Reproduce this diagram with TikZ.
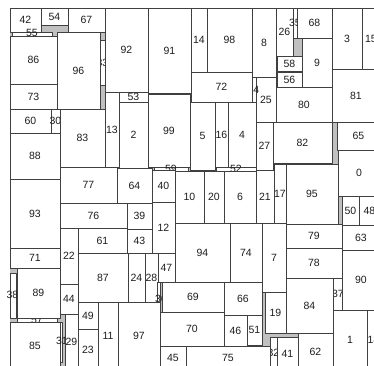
\documentclass[tikz,border=0pt]{standalone}
\usepackage{fontspec}
\setmainfont{Liberation Sans}
\definecolor{gapgray}{RGB}{192,192,192}
\definecolor{edgegray}{RGB}{64,64,64}
\definecolor{ink}{RGB}{30,30,30}
\tikzset{
  cell/.style={draw=edgegray, fill=white, line width=0.8bp},
  lbl/.style={inner sep=0pt, outer sep=0pt, text=ink, font=\fontsize{10.5bp}{12bp}\selectfont},
}
\begin{document}
\begin{tikzpicture}[x=1bp, y=1bp, line cap=round, line join=round]
  \useasboundingbox (0,0) rectangle (374,-366);
  \clip (0,0) rectangle (374,-366);
  \path[fill=gapgray] (10,-8) rectangle (380,-370);
  % top left block
  \path[cell] (10,-8) rectangle node[lbl] (n42) {42} (41,-32);
  \path[cell] (41,-8) rectangle node[lbl] (n54) {54} (68,-25);
  \path[cell] (68,-8) rectangle node[lbl] (n67) {67} (105,-32);
  \path[cell] (12,-32) rectangle (52,-36);
  \node[lbl] (n55) at (32,-33) {55};
  \path[cell] (100,-40) rectangle node[lbl] (n33) {33} (105,-85);
  \path[cell] (10,-36) rectangle node[lbl] (n86) {86} (57,-84);
  \path[cell] (10,-84) rectangle node[lbl] (n73) {73} (57,-109);
  \path[cell] (57,-32) rectangle node[lbl] (n96) {96} (100,-109);
  \path[cell] (105,-8) rectangle node[lbl] (n92) {92} (148,-92);
  \path[cell] (119,-92) rectangle node[lbl] (n53) {53} (148,-102);
  \path[cell] (105,-92) rectangle node[lbl] (n13) {13} (119,-167);
  \path[cell] (119,-102) rectangle node[lbl] (n2) {2} (148,-168);
  \path[cell] (148,-8) rectangle node[lbl] (n91) {91} (191,-93);
  \path[cell] (148,-94) rectangle node[lbl] (n99) {99} (190,-167);
  \path[cell] (154,-167) rectangle (188,-171);
  \node[lbl] (n59) at (171,-168.5) {59};
  % top middle
  \path[cell] (252,-8) rectangle node[lbl] (n8) {8} (276,-77);
  \path[cell] (256,-77) rectangle node[lbl] (n25) {25} (276,-122);
  \path[cell] (252,-77) rectangle (256,-102);
  \node[lbl] (n34) at (253.5,-89.5) {34};
  \path[cell] (191,-8) rectangle node[lbl] (n14) {14} (207,-72);
  \path[cell] (207,-8) rectangle node[lbl] (n98) {98} (252,-72);
  \path[cell] (191,-72) rectangle node[lbl] (n72) {72} (252,-102);
  \path[cell] (190,-102) rectangle node[lbl] (n5) {5} (215,-170);
  \path[cell] (215,-102) rectangle node[lbl] (n16) {16} (228,-167);
  \path[cell] (228,-102) rectangle node[lbl] (n4) {4} (256,-167);
  \path[cell] (216,-167) rectangle (256,-171);
  \node[lbl] (n52) at (236,-169) {52};
  % top right
  \path[cell] (276,-8) rectangle node[lbl] (n26) {26} (293,-56);
  \path[cell] (293,-8) rectangle (297,-38);
  \node[lbl] (n35) at (295,-23) {35};
  \path[cell] (297,-8) rectangle node[lbl] (n68) {68} (332,-38);
  \path[cell] (277,-56) rectangle node[lbl] (n58) {58} (302,-71);
  \path[cell] (277,-72) rectangle node[lbl] (n56) {56} (302,-87);
  \path[cell] (302,-38) rectangle node[lbl] (n9) {9} (332,-87);
  \path[cell] (276,-87) rectangle node[lbl] (n80) {80} (332,-122);
  \path[cell] (332,-8) rectangle node[lbl] (n3) {3} (362,-69);
  \path[cell] (362,-8) rectangle node[lbl] (n15) {15} (380,-69);
  \path[cell] (332,-69) rectangle node[lbl] (n81) {81} (380,-122);
  % middle band
  \path[cell] (10,-109) rectangle node[lbl] (n60) {60} (51,-133);
  \path[cell] (51,-109) rectangle node[lbl] (n30) {30} (60,-133);
  \path[cell] (60,-109) rectangle node[lbl] (n83) {83} (105,-167);
  \path[cell] (10,-133) rectangle node[lbl] (n88) {88} (60,-179);
  \path[cell] (10,-179) rectangle node[lbl] (n93) {93} (60,-248);
  \path[cell] (60,-167) rectangle node[lbl] (n77) {77} (117,-203);
  \path[cell] (117,-168) rectangle node[lbl] (n64) {64} (152,-203);
  \path[cell] (152,-170) rectangle node[lbl] (n40) {40} (175,-202);
  \path[cell] (175,-171) rectangle node[lbl] (n10) {10} (204,-223);
  \path[cell] (204,-171) rectangle node[lbl] (n20) {20} (224,-223);
  \path[cell] (224,-171) rectangle node[lbl] (n6) {6} (256,-223);
  \path[cell] (256,-122) rectangle node[lbl] (n27) {27} (273,-170);
  \path[cell] (273,-122) rectangle node[lbl] (n82) {82} (332,-163);
  \path[cell] (337,-122) rectangle node[lbl] (n65) {65} (380,-150);
  \path[cell] (338,-150) rectangle node[lbl] (n0) {0} (380,-196);
  \path[cell] (256,-170) rectangle node[lbl] (n21) {21} (274,-223);
  \path[cell] (274,-164) rectangle node[lbl] (n17) {17} (286,-223);
  \path[cell] (286,-164) rectangle node[lbl] (n95) {95} (338,-224);
  \path[cell] (342,-196) rectangle node[lbl] (n50) {50} (359,-225);
  \path[cell] (359,-196) rectangle node[lbl] (n48) {48} (380,-225);
  \path[cell] (286,-224) rectangle node[lbl] (n79) {79} (342,-248);
  \path[cell] (342,-225) rectangle node[lbl] (n63) {63} (380,-250);
  \path[cell] (60,-203) rectangle node[lbl] (n76) {76} (127,-228);
  \path[cell] (127,-203) rectangle node[lbl] (n39) {39} (152,-229);
  \path[cell] (152,-202) rectangle node[lbl] (n12) {12} (175,-253);
  \path[cell] (78,-228) rectangle node[lbl] (n61) {61} (127,-253);
  \path[cell] (127,-229) rectangle node[lbl] (n43) {43} (152,-253);
  \path[cell] (60,-228) rectangle node[lbl] (n22) {22} (78,-284);
  \path[cell] (10,-248) rectangle node[lbl] (n71) {71} (60,-268);
  % bottom left
  \path[cell] (10,-273) rectangle (16,-318);
  \node[lbl] (n38) at (12.5,-295) {38};
  \path[cell] (17,-318) rectangle (57,-322);
  \node[lbl] (n57) at (37,-320) {57};
  \path[cell] (17,-268) rectangle node[lbl] (n89) {89} (60,-318);
  \path[cell] (10,-322) rectangle node[lbl] (n85) {85} (60,-370);
  \path[cell] (60,-322) rectangle (62,-362);
  \node[lbl] (n31) at (62,-341) {31};
  \path[cell] (65,-314) rectangle node[lbl] (n29) {29} (78,-370);
  \path[cell] (60,-284) rectangle node[lbl] (n44) {44} (78,-314);
  \path[cell] (78,-302) rectangle node[lbl] (n49) {49} (98,-329);
  \path[cell] (78,-329) rectangle node[lbl] (n23) {23} (98,-370);
  \path[cell] (98,-302) rectangle node[lbl] (n11) {11} (118,-370);
  \path[cell] (78,-253) rectangle node[lbl] (n87) {87} (128,-302);
  \path[cell] (128,-253) rectangle node[lbl] (n24) {24} (145,-302);
  \path[cell] (145,-253) rectangle node[lbl] (n28) {28} (158,-302);
  \path[cell] (158,-253) rectangle node[lbl] (n47) {47} (175,-282);
  % bottom middle and right
  \path[cell] (175,-223) rectangle node[lbl] (n94) {94} (230,-282);
  \path[cell] (230,-223) rectangle node[lbl] (n74) {74} (262,-282);
  \path[cell] (262,-223) rectangle node[lbl] (n7) {7} (286,-292);
  \path[cell] (286,-248) rectangle node[lbl] (n78) {78} (342,-278);
  \path[cell] (333,-278) rectangle (342,-310);
  \node[lbl] (n37) at (338,-294) {37};
  \path[cell] (342,-250) rectangle node[lbl] (n90) {90} (380,-310);
  \path[cell] (286,-278) rectangle node[lbl] (n84) {84} (333,-333);
  \path[cell] (265,-292) rectangle node[lbl] (n19) {19} (286,-333);
  \path[cell] (157,-282) rectangle (160,-302);
  \node[lbl] (n36) at (161,-299) {36};
  \path[cell] (162,-282) rectangle node[lbl] (n69) {69} (224,-312);
  \path[cell] (118,-302) rectangle node[lbl] (n97) {97} (160,-370);
  \path[cell] (224,-282) rectangle node[lbl] (n66) {66} (262,-315);
  \path[cell] (160,-312) rectangle node[lbl] (n70) {70} (224,-346);
  \path[cell] (224,-315) rectangle node[lbl] (n46) {46} (247,-346);
  \path[cell] (247,-315) rectangle node[lbl] (n51) {51} (262,-345);
  \path[cell] (160,-346) rectangle node[lbl] (n45) {45} (186,-370);
  \path[cell] (270,-337) rectangle (277,-370);
  \node[lbl] (n32) at (273.5,-353) {32};
  \path[cell] (186,-346) rectangle node[lbl] (n75) {75} (270,-370);
  \path[cell] (277,-337) rectangle node[lbl] (n41) {41} (298,-370);
  \path[cell] (298,-333) rectangle node[lbl] (n62) {62} (333,-370);
  \path[cell] (333,-310) rectangle node[lbl] (n1) {1} (367,-370);
  \path[cell] (367,-310) rectangle node[lbl] (n18) {18} (380,-370);
\end{tikzpicture}
\end{document}
